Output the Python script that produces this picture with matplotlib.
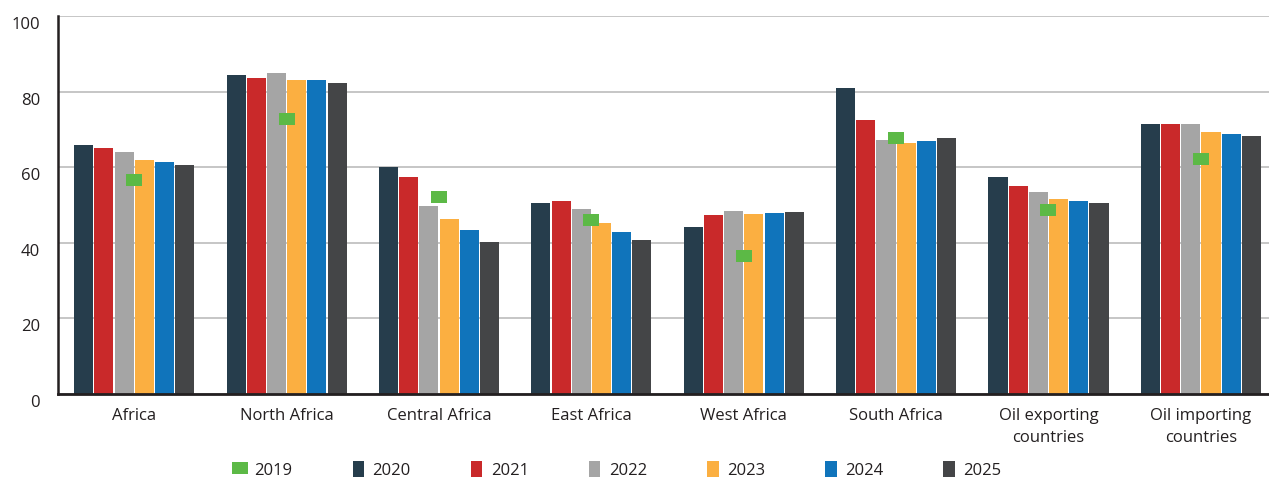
import numpy as np
import matplotlib.pyplot as plt
import matplotlib.transforms as mtransforms

plt.rcParams['font.family'] = ['Open Sans', 'DejaVu Sans']

# data
regions = ["Africa", "North Africa", "Central Africa", "East Africa", "West Africa",
           "South Africa", "Oil exporting\ncountries", "Oil importing\ncountries"]
v2019 = [56.6, 72.8, 52.2, 45.9, 36.6, 67.8, 48.8, 62.1]
v2020 = [65.9, 84.3, 60.0, 50.5, 44.1, 80.9, 57.4, 71.3]
v2021 = [65.1, 83.5, 57.3, 51.0, 47.3, 72.4, 55.0, 71.3]
v2022 = [64.0, 84.8, 49.7, 48.9, 48.4, 67.1, 53.4, 71.3]
v2023 = [61.9, 83.0, 46.3, 45.2, 47.6, 66.3, 51.5, 69.2]
v2024 = [61.4, 83.0, 43.4, 42.9, 48.0, 66.8, 51.0, 68.7]
v2025 = [60.6, 82.2, 40.2, 40.7, 48.2, 67.6, 50.5, 68.2]

bar_years = ["2020", "2021", "2022", "2023", "2024", "2025"]
bar_series = [v2020, v2021, v2022, v2023, v2024, v2025]
bar_colors = ["#263d4c", "#c9292a", "#a5a5a5", "#fbaf41", "#1074bb", "#444547"]
marker_color = "#5cb946"
text_color = "#231f20"

fig = plt.figure(figsize=(12.69, 4.8), dpi=100)
ax = fig.add_axes([58 / 1269, 86 / 480, 1 - 58 / 1269, 378 / 480])

x = np.arange(len(regions))
pitch = 0.1326
width = 0.125
handles = []
for i, (vals, col, yr) in enumerate(zip(bar_series, bar_colors, bar_years)):
    b = ax.bar(x + (i - 2.5) * pitch, vals, width=width, color=col, label=yr, zorder=2)
    handles.append(b)

# 2019 shown as a small green block at the group centre
box = [(-8, -6.5), (8, -6.5), (8, 6.5), (-8, 6.5), (-8, -6.5)]
m, = ax.plot(x, v2019, linestyle='none', marker=box, markersize=11.5,
             color=marker_color, markeredgewidth=0, zorder=3, label="2019")

ax.set_xlim(-0.5, 7.447)
ax.set_ylim(0, 100)
ax.set_yticks([0, 20, 40, 60, 80, 100])
ax.yaxis.grid(True, color="#c2c2c2", linewidth=1.3, zorder=0)
ax.set_axisbelow(True)
for s in ["top", "right"]:
    ax.spines[s].set_visible(False)
ax.spines["left"].set_color(text_color)
ax.spines["left"].set_linewidth(1.8)
ax.spines["bottom"].set_color(text_color)
ax.spines["bottom"].set_linewidth(2)

ax.set_xticks(x)
ax.set_xticklabels(regions, fontsize=12, color=text_color, linespacing=1.5)
ax.tick_params(axis='both', length=0)
ax.tick_params(axis='x', pad=10)
ax.tick_params(axis='y', labelsize=12, labelcolor=text_color, pad=13)
offset = mtransforms.ScaledTranslation(0, -7 / 100, fig.dpi_scale_trans)
for lab in ax.get_yticklabels():
    lab.set_transform(lab.get_transform() + offset)

leg = fig.legend([m] + handles, ["2019"] + bar_years, loc='center', ncol=7,
                 bbox_to_anchor=(618 / 1269, 1 - 470 / 480), frameon=False,
                 fontsize=12, handlelength=0.7, handleheight=1.1,
                 columnspacing=3.6, handletextpad=0.5)
for t in leg.get_texts():
    t.set_color(text_color)

fig.savefig("out.png", dpi=100)
